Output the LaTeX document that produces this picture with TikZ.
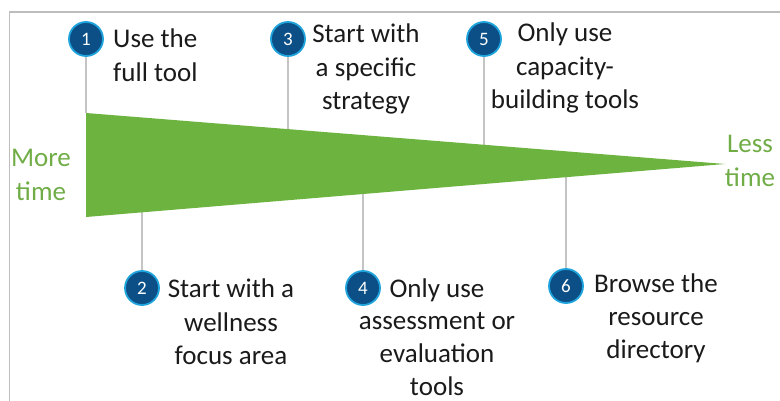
\documentclass[tikz,border=0pt]{standalone}
\usepackage{fontspec}
\setmainfont{Carlito}
\usetikzlibrary{calc}

\definecolor{wedgegreen}{HTML}{6DB33F}
\definecolor{labelgreen}{HTML}{70AD47}
\definecolor{stepblue}{HTML}{0B4F86}
\definecolor{stepring}{HTML}{1EA3DC}
\definecolor{leadgray}{HTML}{C4C4C4}
\definecolor{framegray}{HTML}{BDBDBD}
\definecolor{inktext}{HTML}{1A1A1A}

% stacked lines whose baseline is the first line
\newcommand{\txtstack}[2][c]{\begin{tabular}[t]{@{}#1@{}}#2\end{tabular}}

\begin{document}
\begin{tikzpicture}[x=1pt,y=-1pt,
  stepnum/.style={circle, fill=stepblue, draw=stepring, line width=1.8pt,
    minimum size=34pt, inner sep=0pt, text=white,
    font=\fontsize{19}{22}\selectfont},
  lbl/.style={anchor=base, inner sep=0pt, text=inktext,
    font=\fontsize{27}{33.3}\selectfont},
  glbl/.style={lbl, text=labelgreen},
  lead/.style={draw=leadgray, line width=1.3pt}]
\useasboundingbox (0,0) rectangle (780,401);

% frame
\draw[framegray, line width=1.3pt] (9.5,401) -- (9.5,12) -- (780,12);

% wedge corners
\coordinate (tl) at (86,113);
\coordinate (bl) at (86,217);
\coordinate (tip) at (725,164);

% points on the wedge edges below/above each step
\coordinate (e1) at (tl);
\coordinate (e2) at ($(bl)!0.0876!(tip)$);
\coordinate (e3) at ($(tl)!0.3161!(tip)$);
\coordinate (e4) at ($(bl)!0.4335!(tip)$);
\coordinate (e5) at ($(tl)!0.6228!(tip)$);
\coordinate (e6) at ($(bl)!0.7512!(tip)$);

% step markers
\coordinate (p1) at (86,39);
\coordinate (p2) at (142,288);
\coordinate (p3) at (288,39);
\coordinate (p4) at (363,288);
\coordinate (p5) at (484,39);
\coordinate (p6) at (566,286);

% leader lines
\foreach \i in {1,...,6} \draw[lead] (p\i) -- (p\i |- e\i);

% wedge
\fill[wedgegreen] (tl) -- (tip) -- (bl) -- cycle;

% numbered markers
\foreach \i in {1,...,6} \node[stepnum] (c\i) at (p\i) {\i};

% step labels
\node[lbl, anchor=base west] (t1) at (113,48) {\txtstack[l]{Use the\\full tool}};
\node[lbl] (t2) at (231,298) {\txtstack{Start with a\\wellness\\focus area}};
\node[lbl] (t3) at (366,43) {\txtstack{Start with\\a specific\\strategy}};
\node[lbl, font=\fontsize{27}{32.7}\selectfont] (t4) at (437,297) {\txtstack{Only use\\assessment or\\evaluation\\tools}};
\node[lbl] (t5) at (565,42) {\txtstack{Only use\\capacity-\\building tools}};
\node[lbl] (t6) at (656,292) {\txtstack{Browse the\\resource\\directory}};

% axis ends
\node[glbl] (more) at (41,167) {\txtstack{More\\time}};
\node[glbl] (less) at (750,153) {\txtstack{Less\\time}};
\end{tikzpicture}
\end{document}
